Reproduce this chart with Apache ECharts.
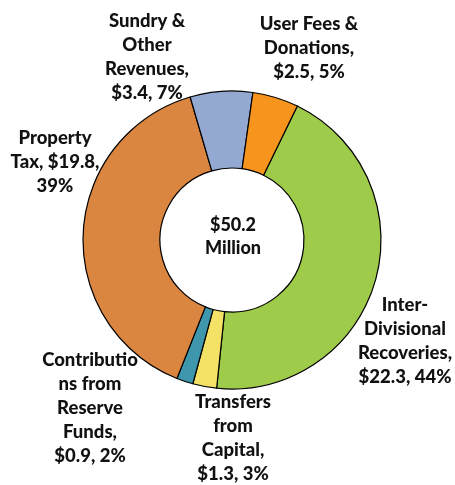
<!DOCTYPE html>
<html>
<head>
<meta charset="utf-8">
<script src="https://cdn.jsdelivr.net/npm/echarts@6/dist/echarts.min.js"></script>
<style>html,body{margin:0;padding:0;background:#fff}#c{width:455px;height:485px}</style>
</head>
<body>
<div id="c"></div>
<script>
var categories = ['Inter-Divisional Recoveries','Transfers from Capital','Contributions from Reserve Funds','Property Tax','Sundry & Other Revenues','User Fees & Donations'];
var labelNames = ['Inter-\nDivisional\nRecoveries,','Transfers\nfrom\nCapital,','Contributio\nns from\nReserve\nFunds,','Property\nTax,','Sundry &\nOther\nRevenues,','User Fees &\nDonations,'];
var values = [22.3, 1.3, 0.9, 19.8, 3.4, 2.5];
var totalText = '$50.2\nMillion';

var colors = ['#9FCB4B','#F4E266','#3F97AE','#DA8540','#94A9D1','#F7941E'];
var labelPos = [[405,341],[233,438],[90,408],[55,162],[147,57],[309,48]];

var chart = echarts.init(document.getElementById('c'));
var data = categories.map(function(c,i){return {name:c, value:values[i], itemStyle:{color:colors[i]}};});
chart.setOption({
  animation:false,
  graphic:[{type:'text', style:{x:233, y:237, text:totalText, textAlign:'center', textVerticalAlign:'middle', font:'900 18px Lato', fill:'#111', lineHeight:23}}],
  series:[{
    type:'pie',
    center:[232,240],
    radius:[72,149],
    startAngle:64,
    clockwise:true,
    avoidLabelOverlap:false,
    itemStyle:{borderColor:'#000', borderWidth:1.2},
    label:{
      show:true, position:'outside', color:'#111',
      fontFamily:'Lato', fontWeight:900, fontSize:18.5, lineHeight:24, align:'center',
      formatter:function(p){
        var n = labelNames[p.dataIndex];
        var tail = '$' + p.value.toFixed(1) + ', ' + Math.round(p.percent) + '%';
        if (p.dataIndex === 3) return 'Property\nTax, $' + p.value.toFixed(1) + ',\n' + Math.round(p.percent) + '%';
        return n + '\n' + tail;
      }
    },
    labelLine:{show:false},
    labelLayout:function(params){
      var p = labelPos[params.dataIndex];
      return {x:p[0], y:p[1], align:'center', verticalAlign:'middle'};
    },
    emphasis:{disabled:true},
    data:data
  }]
});
</script>
</body>
</html>
